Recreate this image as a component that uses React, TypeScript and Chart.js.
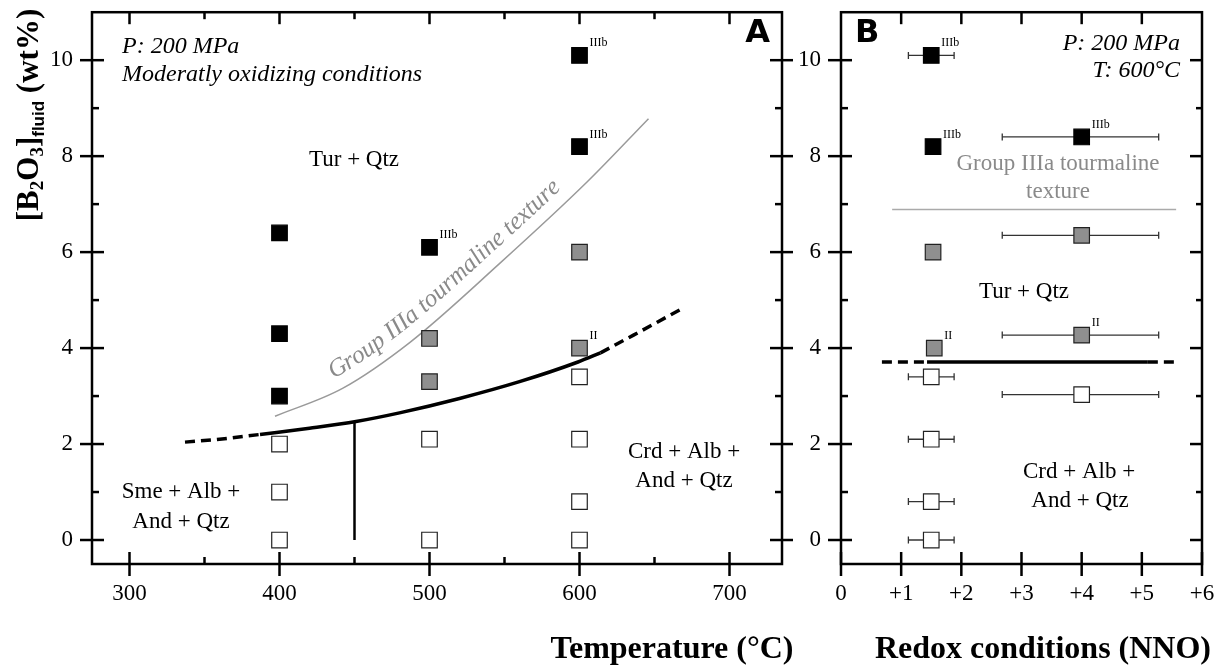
import React, { useEffect, useRef } from 'react';
import { Chart, registerables } from 'chart.js';

Chart.register(...registerables);

// ---------- Panel A data (Temperature vs B2O3) ----------
const tempBlack = [400, 400, 400, 500, 600, 600];
const b2o3Black = [6.4, 4.3, 3.0, 6.1, 10.1, 8.2];
const tempGray = [500, 500, 600, 600];
const b2o3Gray = [4.2, 3.3, 6.0, 4.0];
const tempWhite = [400, 400, 400, 500, 500, 600, 600, 600, 600];
const b2o3White = [2.0, 1.0, 0, 2.1, 0, 3.4, 2.1, 0.8, 0];

const labelTempA = [500, 600, 600, 600];
const labelB2o3A = [6.1, 10.1, 8.2, 4.0];
const labelTextA = ['IIIb', 'IIIb', 'IIIb', 'II'];

const boundaryDashLeftT = [337, 360, 387];
const boundaryDashLeftB = [2.04, 2.1, 2.2];
const boundarySolidT = [387, 420, 451, 480, 520, 560, 599, 614];
const boundarySolidB = [2.2, 2.33, 2.47, 2.65, 2.95, 3.3, 3.71, 3.9];
const boundaryDashRightT = [614, 636, 667];
const boundaryDashRightB = [3.9, 4.27, 4.8];
const verticalT = [450, 450];
const verticalB = [0, 2.47];
const textureT = [397, 442, 487, 547, 605, 646];
const textureB = [2.58, 3.16, 4.12, 5.77, 7.46, 8.78];

const tempMajorTicks = [300, 400, 500, 600, 700];
const tempMinorTicks = [350, 450, 550, 650];
const b2o3MajorTicks = [0, 2, 4, 6, 8, 10];
const b2o3MinorTicks = [1, 3, 5, 7, 9];

// ---------- Panel B data (NNO vs B2O3) ----------
const nnoBlack = [1.5, 1.53, 4.0];
const b2o3BlackB = [10.1, 8.2, 8.4];
const nnoGray = [4.0, 1.53, 4.0, 1.55];
const b2o3GrayB = [6.35, 6.0, 4.27, 4.0];
const nnoWhite = [1.5, 4.0, 1.5, 1.5, 1.5];
const b2o3WhiteB = [3.4, 3.03, 2.1, 0.8, 0];

const errY = [10.1, 8.4, 6.35, 4.27, 3.4, 3.03, 2.1, 0.8, 0];
const errLo = [1.12, 2.68, 2.68, 2.68, 1.12, 2.68, 1.12, 1.12, 1.12];
const errHi = [1.88, 5.28, 5.28, 5.28, 1.88, 5.28, 1.88, 1.88, 1.88];

const labelNnoB = [1.5, 1.53, 4.0, 4.0, 1.55];
const labelB2o3B = [10.1, 8.2, 8.4, 4.27, 4.0];
const labelTextB = ['IIIb', 'IIIb', 'IIIb', 'II', 'II'];

const boundaryBY = 3.71;
const boundaryBDashLeftX = [0.68, 1.43];
const boundaryBSolidX = [1.43, 5.1];
const boundaryBDashRightX = [5.1, 5.62];
const textureBY = 6.89;
const textureBX = [0.85, 5.57];

const nnoMajorTicks = [0, 1, 2, 3, 4, 5, 6];

// ---------- helpers ----------
const SERIF = '"Liberation Serif", "Times New Roman", serif';
const pts = (xs: number[], ys: number[]) => xs.map((x, i) => ({ x, y: ys[i] }));
const hpts = (xs: number[], y: number) => xs.map((x) => ({ x, y }));

function line(ctx: CanvasRenderingContext2D, x1: number, y1: number, x2: number, y2: number) {
  ctx.beginPath();
  ctx.moveTo(x1, y1);
  ctx.lineTo(x2, y2);
  ctx.stroke();
}

function txt(
  ctx: CanvasRenderingContext2D,
  s: string,
  x: number,
  y: number,
  font: string,
  align: CanvasTextAlign = 'left',
  color = '#000'
) {
  ctx.font = font;
  ctx.textAlign = align;
  ctx.textBaseline = 'alphabetic';
  ctx.fillStyle = color;
  ctx.fillText(s, x, y);
}

function markerDS(data: any[], fill: string, border: string) {
  return {
    data,
    showLine: false,
    backgroundColor: fill,
    borderColor: border,
    pointBackgroundColor: fill,
    pointBorderColor: border,
    pointStyle: 'rect',
    pointRadius: 11,
    pointBorderWidth: 1.2,
    order: 0,
  };
}

function lineDS(data: any[], color: string, width: number, dash: number[] = [], smooth = true) {
  return {
    data,
    showLine: true,
    borderColor: color,
    borderWidth: width,
    borderDash: dash,
    pointRadius: 0,
    cubicInterpolationMode: smooth ? 'monotone' : 'default',
    tension: 0,
    order: 5,
  };
}

function errDS(lo: number, hi: number, y: number) {
  return {
    data: [
      { x: lo, y },
      { x: hi, y },
    ],
    showLine: true,
    borderColor: '#333',
    borderWidth: 1.3,
    pointStyle: 'line',
    pointRotation: 90,
    pointRadius: 3.5,
    pointBorderColor: '#333',
    pointBorderWidth: 1.3,
    order: 8,
  };
}

function samplePath(meta: any) {
  const els = meta.data;
  const out: { x: number; y: number }[] = [];
  for (let i = 0; i < els.length - 1; i++) {
    const a = els[i];
    const b = els[i + 1];
    const c1x = a.cp2x ?? a.x;
    const c1y = a.cp2y ?? a.y;
    const c2x = b.cp1x ?? b.x;
    const c2y = b.cp1y ?? b.y;
    for (let k = 0; k < 20; k++) {
      const t = k / 20;
      const u = 1 - t;
      out.push({
        x: u * u * u * a.x + 3 * u * u * t * c1x + 3 * u * t * t * c2x + t * t * t * b.x,
        y: u * u * u * a.y + 3 * u * u * t * c1y + 3 * u * t * t * c2y + t * t * t * b.y,
      });
    }
  }
  const l = els[els.length - 1];
  out.push({ x: l.x, y: l.y });
  return out;
}

function drawTextOnPath(
  ctx: CanvasRenderingContext2D,
  path: { x: number; y: number }[],
  text: string,
  startS: number,
  offset: number,
  font: string,
  color: string
) {
  const cum = [0];
  for (let i = 1; i < path.length; i++) {
    cum.push(cum[i - 1] + Math.hypot(path[i].x - path[i - 1].x, path[i].y - path[i - 1].y));
  }
  const at = (s: number) => {
    let i = 1;
    while (i < path.length - 1 && cum[i] < s) i++;
    const p0 = path[i - 1];
    const p1 = path[i];
    const segLen = cum[i] - cum[i - 1] || 1;
    const t = (s - cum[i - 1]) / segLen;
    return {
      x: p0.x + (p1.x - p0.x) * t,
      y: p0.y + (p1.y - p0.y) * t,
      a: Math.atan2(p1.y - p0.y, p1.x - p0.x),
    };
  };
  ctx.font = font;
  ctx.fillStyle = color;
  ctx.textAlign = 'center';
  ctx.textBaseline = 'alphabetic';
  let s = startS;
  for (const ch of text) {
    const w = ctx.measureText(ch).width;
    const p = at(s + w / 2);
    const nx = Math.sin(p.a);
    const ny = -Math.cos(p.a);
    ctx.save();
    ctx.translate(p.x + nx * offset, p.y + ny * offset);
    ctx.rotate(p.a);
    ctx.fillText(ch, 0, 0);
    ctx.restore();
    s += w;
  }
}

function drawYTitle(ctx: CanvasRenderingContext2D, bx: number, cy: number) {
  const main = `bold 31px ${SERIF}`;
  const sub = `bold 19px ${SERIF}`;
  const subS = 'bold 17px "Liberation Sans", Arial, sans-serif';
  const parts = [
    { t: '[B', f: main, dy: 0 },
    { t: '2', f: sub, dy: 5 },
    { t: 'O', f: main, dy: 0 },
    { t: '3', f: sub, dy: 5 },
    { t: ']', f: main, dy: 0 },
    { t: 'fluid', f: subS, dy: 6 },
    { t: ' (wt%)', f: main, dy: 0 },
  ];
  let total = 0;
  const widths = parts.map((p) => {
    ctx.font = p.f;
    const w = ctx.measureText(p.t).width;
    total += w;
    return w;
  });
  ctx.save();
  ctx.translate(bx, cy);
  ctx.rotate(-Math.PI / 2);
  ctx.textAlign = 'left';
  ctx.textBaseline = 'alphabetic';
  ctx.fillStyle = '#000';
  let x = -total / 2;
  parts.forEach((p, i) => {
    ctx.font = p.f;
    ctx.fillText(p.t, x, p.dy);
    x += widths[i];
  });
  ctx.restore();
}

const tickFont = { family: SERIF, size: 23 };

const fitX = (s: any) => {
  s.height = 102;
  s.paddingLeft = 0;
  s.paddingRight = 0;
  s.paddingTop = 0;
  s.paddingBottom = 0;
};
const fitY = (w: number) => (s: any) => {
  s.width = w;
  s.paddingLeft = 0;
  s.paddingRight = 0;
  s.paddingTop = 0;
  s.paddingBottom = 0;
};

// ---------- Panel A config ----------
function configA(): any {
  const plugin = {
    id: 'panelA',
    afterDraw(chart: any) {
      const { ctx, chartArea, scales } = chart;
      const { left, right, top, bottom } = chartArea;
      const x = scales.x;
      const y = scales.y;
      ctx.save();
      const path = samplePath(chart.getDatasetMeta(3));
      drawTextOnPath(ctx, path, 'Group IIIa tourmaline texture', 70, 13, `italic 25px ${SERIF}`, '#8a8a8a');

      ctx.strokeStyle = '#000';
      ctx.lineWidth = 2.5;
      ctx.lineCap = 'butt';
      ctx.strokeRect(left, top, right - left, bottom - top);
      tempMajorTicks.forEach((v) => {
        const px = x.getPixelForValue(v);
        line(ctx, px, bottom - 12, px, bottom + 12);
        line(ctx, px, top, px, top + 12);
      });
      tempMinorTicks.forEach((v) => {
        const px = x.getPixelForValue(v);
        line(ctx, px, bottom - 7, px, bottom);
        line(ctx, px, top, px, top + 7);
      });
      b2o3MajorTicks.forEach((v) => {
        const py = y.getPixelForValue(v);
        line(ctx, left - 12, py, left + 12, py);
        line(ctx, right - 12, py, right + 11, py);
      });
      b2o3MinorTicks.forEach((v) => {
        const py = y.getPixelForValue(v);
        line(ctx, left, py, left + 7, py);
        line(ctx, right - 7, py, right, py);
      });

      labelTempA.forEach((t, i) => {
        txt(ctx, labelTextA[i], x.getPixelForValue(t) + 10, y.getPixelForValue(labelB2o3A[i]) - 9, `12px ${SERIF}`);
      });

      txt(ctx, 'P: 200 MPa', 122, 53, `italic 24px ${SERIF}`);
      txt(ctx, 'Moderatly oxidizing conditions', 122, 81, `italic 24px ${SERIF}`);
      txt(ctx, 'Tur + Qtz', 309, 166, `23px ${SERIF}`);
      txt(ctx, 'Sme + Alb +', 181, 498, `23px ${SERIF}`, 'center');
      txt(ctx, 'And + Qtz', 181, 528, `23px ${SERIF}`, 'center');
      txt(ctx, 'Crd + Alb +', 684, 458, `23px ${SERIF}`, 'center');
      txt(ctx, 'And + Qtz', 684, 487, `23px ${SERIF}`, 'center');
      txt(ctx, 'A', 770, 42, 'bold 32px "DejaVu Sans", sans-serif', 'right');

      txt(ctx, 'Temperature (°C)', 672, 658, `bold 32px ${SERIF}`, 'center');
      drawYTitle(ctx, 38, 115);
      ctx.restore();
    },
  };

  return {
    type: 'scatter',
    data: {
      datasets: [
        markerDS(pts(tempBlack, b2o3Black), '#000', '#000'),
        markerDS(pts(tempGray, b2o3Gray), '#8f8f8f', '#222'),
        markerDS(pts(tempWhite, b2o3White), '#fff', '#222'),
        lineDS(pts(textureT, textureB), '#9a9a9a', 1.5),
        lineDS(pts(boundaryDashLeftT, boundaryDashLeftB), '#000', 3.5, [10, 6]),
        lineDS(pts(boundarySolidT, boundarySolidB), '#000', 3.5),
        lineDS(pts(boundaryDashRightT, boundaryDashRightB), '#000', 3.5, [10, 6]),
        lineDS(pts(verticalT, verticalB), '#000', 2.5, [], false),
      ],
    },
    options: {
      responsive: false,
      animation: false,
      events: [],
      layout: { padding: { top: 8, right: 15, left: 0, bottom: 0 } },
      plugins: { legend: { display: false }, tooltip: { enabled: false } },
      scales: {
        x: {
          type: 'linear',
          position: 'bottom',
          min: 275,
          max: 735,
          afterBuildTicks: (s: any) => {
            s.ticks = tempMajorTicks.map((v) => ({ value: v }));
          },
          afterFit: fitX,
          grid: { display: false, drawTicks: false },
          border: { display: false },
          ticks: { autoSkip: false, maxRotation: 0, padding: 16, color: '#000', font: tickFont },
        },
        y: {
          type: 'linear',
          position: 'left',
          min: -0.5,
          max: 11,
          afterBuildTicks: (s: any) => {
            s.ticks = b2o3MajorTicks.map((v) => ({ value: v }));
          },
          afterFit: fitY(92),
          grid: { display: false, drawTicks: false },
          border: { display: false },
          ticks: { autoSkip: false, padding: 19, color: '#000', font: tickFont },
        },
      },
    },
    plugins: [plugin],
  };
}

// ---------- Panel B config ----------
function configB(): any {
  const plugin = {
    id: 'panelB',
    afterDraw(chart: any) {
      const { ctx, chartArea, scales } = chart;
      const { left, right, top, bottom } = chartArea;
      const x = scales.x;
      const y = scales.y;
      ctx.save();
      ctx.strokeStyle = '#000';
      ctx.lineWidth = 2.5;
      ctx.lineCap = 'butt';
      ctx.strokeRect(left, top, right - left, bottom - top);
      nnoMajorTicks.forEach((v) => {
        const px = x.getPixelForValue(v);
        line(ctx, px, bottom - 12, px, bottom + 12);
        if (v > 0 && v < 6) line(ctx, px, top, px, top + 12);
      });
      b2o3MajorTicks.forEach((v) => {
        const py = y.getPixelForValue(v);
        line(ctx, left - 13, py, left + 11, py);
        line(ctx, right - 12, py, right, py);
      });
      b2o3MinorTicks.forEach((v) => {
        const py = y.getPixelForValue(v);
        line(ctx, left, py, left + 7, py);
        line(ctx, right - 6, py, right, py);
      });

      labelNnoB.forEach((n, i) => {
        txt(ctx, labelTextB[i], x.getPixelForValue(n) + 10, y.getPixelForValue(labelB2o3B[i]) - 9, `12px ${SERIF}`);
      });

      txt(ctx, 'B', 58, 42, 'bold 32px "DejaVu Sans", sans-serif', 'left');
      txt(ctx, 'P: 200 MPa', 383, 50, `italic 24px ${SERIF}`, 'right');
      txt(ctx, 'T: 600°C', 383, 77, `italic 24px ${SERIF}`, 'right');
      txt(ctx, 'Group IIIa tourmaline', 261, 170, `23px ${SERIF}`, 'center', '#8a8a8a');
      txt(ctx, 'texture', 261, 198, `23px ${SERIF}`, 'center', '#8a8a8a');
      txt(ctx, 'Tur + Qtz', 227, 298, `23px ${SERIF}`, 'center');
      txt(ctx, 'Crd + Alb +', 282, 478, `23px ${SERIF}`, 'center');
      txt(ctx, 'And + Qtz', 283, 507, `23px ${SERIF}`, 'center');
      txt(ctx, 'Redox conditions (NNO)', 246, 658, `bold 32px ${SERIF}`, 'center');
      ctx.restore();
    },
  };

  const errSets = errY.map((yv, i) => errDS(errLo[i], errHi[i], yv));

  return {
    type: 'scatter',
    data: {
      datasets: [
        markerDS(pts(nnoBlack, b2o3BlackB), '#000', '#000'),
        markerDS(pts(nnoGray, b2o3GrayB), '#8f8f8f', '#222'),
        markerDS(pts(nnoWhite, b2o3WhiteB), '#fff', '#222'),
        ...errSets,
        lineDS(hpts(textureBX, textureBY), '#aaaaaa', 1.5, [], false),
        lineDS(hpts(boundaryBDashLeftX, boundaryBY), '#000', 3.5, [10, 6], false),
        lineDS(hpts(boundaryBSolidX, boundaryBY), '#000', 3.5, [], false),
        lineDS(hpts(boundaryBDashRightX, boundaryBY), '#000', 3.5, [10, 6], false),
      ],
    },
    options: {
      responsive: false,
      animation: false,
      events: [],
      layout: { padding: { top: 8, right: 24, left: 0, bottom: 0 } },
      plugins: { legend: { display: false }, tooltip: { enabled: false } },
      scales: {
        x: {
          type: 'linear',
          position: 'bottom',
          min: 0,
          max: 6,
          afterBuildTicks: (s: any) => {
            s.ticks = nnoMajorTicks.map((v) => ({ value: v }));
          },
          afterFit: fitX,
          grid: { display: false, drawTicks: false },
          border: { display: false },
          ticks: {
            autoSkip: false,
            maxRotation: 0,
            padding: 16,
            color: '#000',
            font: tickFont,
            callback: (v: number) => (v === 0 ? '0' : '+' + v),
          },
        },
        y: {
          type: 'linear',
          position: 'left',
          min: -0.5,
          max: 11,
          afterBuildTicks: (s: any) => {
            s.ticks = b2o3MajorTicks.map((v) => ({ value: v }));
          },
          afterFit: fitY(44),
          grid: { display: false, drawTicks: false },
          border: { display: false },
          ticks: { autoSkip: false, padding: 20, color: '#000', font: tickFont },
        },
      },
    },
    plugins: [plugin],
  };
}

export default function App() {
  const refA = useRef<HTMLCanvasElement>(null);
  const refB = useRef<HTMLCanvasElement>(null);
  useEffect(() => {
    const a = new Chart(refA.current as HTMLCanvasElement, configA());
    const b = new Chart(refB.current as HTMLCanvasElement, configB());
    return () => {
      a.destroy();
      b.destroy();
    };
  }, []);
  return (
    <div style={{ position: 'fixed', left: 0, top: 0, width: 1226, height: 666, background: '#fff' }}>
      <canvas
        ref={refA}
        width={797}
        height={666}
        style={{ position: 'absolute', left: 0, top: 0, width: 797, height: 666 }}
      />
      <canvas
        ref={refB}
        width={429}
        height={666}
        style={{ position: 'absolute', left: 797, top: 0, width: 429, height: 666 }}
      />
    </div>
  );
}
